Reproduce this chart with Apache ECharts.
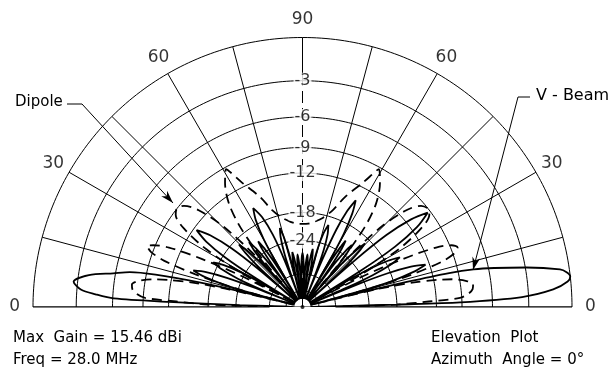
<!DOCTYPE html>
<html><head><meta charset="utf-8">
<script src="https://cdn.jsdelivr.net/npm/echarts@6/dist/echarts.min.js"></script>
<style>html,body{margin:0;padding:0;background:#fff}#c{width:612px;height:371px}</style>
</head><body><div id="c"></div>
<script>
// ---- data ----
const ringDb = [0, -3, -6, -9, -12, -18, -24, -36, -48];
const ringLabelDb = [-3, -6, -9, -12, -18, -24];
const ringLabels = ['-3', '-6', '-9', '-12', '-18', '-24'];
const spokeStep = 15;
const angleLabelAt = [0, 30, 60, 90, 120, 150, 180];
const angleLabels = ['0', '30', '60', '90', '60', '30', '0'];
// [elevation angle (deg, 0 = right horizon, 180 = left horizon), gain dB relative to max]
const vBeam = [
  [0,-60],[1.3,-30],[1.5,-18],[1.7,-9.2],[2.6,-3.5],[4,-1.2],[5.5,-0.2],[6.5,0],[7.5,-0.2],[8.3,-0.6],[10,-2.9],[11.5,-5.5],[12.4,-7.4],[13,-10],[13.5,-16],[14,-26],[14.6,-60],
  [15.3,-26.5],[16.1,-18.5],[17.5,-14.5],[19,-12.5],[20.4,-14.5],[21.6,-18.5],[22.4,-26.5],[23,-60],
  [23.6,-29.5],[24.4,-21.5],[25.6,-17.5],[27,-15.5],[28.4,-17.5],[29.6,-21.5],[30.4,-29.5],[31,-60],
  [31.9,-23.3],[33.1,-15.3],[34.9,-11.3],[37,-9.3],[38.9,-11.3],[40.6,-15.3],[41.7,-23.3],[42.5,-60],
  [42.9,-33],[43.5,-25],[44.5,-21],[45.5,-19],[46.5,-21],[47.5,-25],[48.1,-33],[48.5,-60],
  [48.9,-35],[49.5,-27],[50.5,-23],[51.5,-21],[52.5,-23],[53.5,-27],[54.1,-35],[54.5,-60],
  [54.9,-35],[55.4,-27],[56.1,-23],[57,-21],[57.7,-23],[58.3,-27],[58.7,-35],[59,-60],
  [59.7,-28],[60.6,-20],[62,-16],[63.5,-14],[65,-16],[66.4,-20],[67.3,-28],[68,-60],
  [68.7,-33.6],[69.6,-25.6],[70.9,-21.6],[72.5,-19.6],[74.1,-21.6],[75.4,-25.6],[76.3,-33.6],[77,-60],
  [77.5,-40],[78,-32],[79,-28],[80,-26],[80.7,-28],[81.3,-32],[81.7,-40],[82,-60],
  [82.4,-42],[83,-34],[83.6,-30],[84.5,-28],[85.4,-30],[86,-34],[86.6,-42],[87,-60],
  [87.5,-41.5],[88.2,-33.5],[89,-29.5],[90,-27.5],[91,-29.5],[91.8,-33.5],[92.5,-41.5],[93,-60],
  [93.4,-42],[94,-34],[94.6,-30],[95.5,-28],[96.4,-30],[97,-34],[97.6,-42],[98,-60],
  [98.4,-41],[99,-33],[99.6,-29],[100.5,-27],[101.4,-29],[102,-33],[102.6,-41],[103,-60],
  [103.5,-34.4],[104.2,-26.4],[105,-22.4],[106,-20.4],[107.4,-22.4],[108.6,-26.4],[109.4,-34.4],[110,-60],
  [111,-29.3],[112.3,-21.3],[114.2,-17.3],[116.5,-15.3],[118.3,-17.3],[119.8,-21.3],[120.8,-29.3],[121.5,-60],
  [121.9,-35],[122.4,-27],[123.1,-23],[124,-21],[124.9,-23],[125.6,-27],[126.1,-35],[126.5,-60],
  [126.9,-34],[127.6,-26],[128.5,-22],[129.5,-20],[130.5,-22],[131.4,-26],[132.1,-34],[132.5,-60],
  [132.9,-33],[133.5,-25],[134.5,-21],[135.5,-19],[136.5,-21],[137.5,-25],[138.1,-33],[138.5,-60],
  [139.3,-26.4],[140.4,-18.4],[142.1,-14.4],[144,-12.4],[145.8,-14.4],[147.3,-18.4],[148.3,-26.4],[149,-60],
  [149.7,-31],[150.6,-23],[152,-19],[153.5,-17],[155,-19],[156.4,-23],[157.1,-31],[157.5,-60],
  [158.1,-28.6],[158.9,-20.6],[160.1,-16.6],[161.5,-14.6],[162.9,-16.6],[164.1,-20.6],[164.9,-28.6],[165.5,-60],
  [166,-24],[166.6,-16],[167.6,-10],[168.6,-7.3],[169.9,-5.8],[171.5,-3.8],[173.7,-2.7],[175.5,-3.3],[176.5,-4.5],[177.4,-6.1],[177.8,-12],[178.3,-25],[179,-60],[180,-60]
];
const dipole = [
  [0,-60],[0.8,-30],[1.5,-18],[2.5,-13],[3.3,-9.2],[4.5,-8.3],[6,-7.8],[7.5,-7.7],[9,-8.3],[10.5,-9.8],[11.4,-11.6],[12.5,-15],[13.5,-22],[14.5,-60],
  [15.3,-24],[16.5,-15],[18,-10.5],[19.5,-8.8],[21,-8.3],[22.5,-8.8],[24,-10.5],[25.5,-15],[27,-24],[28,-60],
  [29,-24],[31,-15],[33.5,-11],[36,-9.3],[38,-9],[40.5,-9.4],[43,-11],[45.5,-15],[47.5,-24],[49,-60],
  [50,-26],[52,-17],[54.5,-13],[58,-10.5],[61,-9.2],[64,-11.4],[68.9,-14.2],[72.5,-16.7],[77,-18.5],[82,-19.6],[86,-20.1],[90,-20.2],
  [94,-20.1],[98,-19.6],[103,-18.5],[107.5,-16.7],[111.1,-14.2],[116,-11.4],[119,-9.2],[122,-10.5],[125.5,-13],[128,-17],[130,-26],[131,-60],
  [132.5,-24],[134.5,-15],[137,-11],[139.5,-9.4],[142,-9],[144,-9.3],[146.5,-11],[149,-15],[151,-24],[152,-60],
  [153,-24],[154.5,-15],[156,-10.5],[157.5,-8.8],[158.5,-8.2],[160,-8.8],[161.5,-10.5],[163,-15],[164.5,-24],[165.5,-60],
  [166.5,-22],[167.5,-15],[168.6,-11.6],[169.5,-9.8],[171,-8.3],[172.5,-7.7],[174,-7.8],[175.5,-8.3],[176.7,-9.2],[177.5,-13],[178.5,-18],[179.2,-30],[180,-60]
];
const infoLeft = ['Max  Gain = 15.46 dBi', 'Freq = 28.0 MHz'];
const infoRight = ['Elevation  Plot', 'Azimuth  Angle = 0\u00B0'];
const legendNames = ['Dipole', 'V - Beam'];

// ---- helpers ----
// ARRL log-periodic scale: radius falls to 0.89 for every 2 dB
function dbToR(db) { return Math.pow(0.89, -db / 2); }
const FONT = 'DejaVu Sans';
const CX = 302.5, CY = 307, R = 269.5;
const RMAX = 1.1;            // head-room so the rim ring is not clipped
const LABEL_R = 1.068;
const arcAngles = [];
for (let a = 0; a <= 180; a += 1) arcAngles.push(a);

const spokeColors = [];
for (let a = 0; a <= 180; a += spokeStep) spokeColors.push(a === 90 ? 'rgba(0,0,0,0)' : '#000');

const series = [];
ringDb.forEach(function (db) {
  series.push({
    type: 'line', coordinateSystem: 'polar', polarIndex: 1, silent: true, clip: false,
    symbol: 'none', z: 1,
    lineStyle: { color: '#000', width: 1 },
    data: arcAngles.map(function (a) { return [dbToR(db), a]; })
  });
});
// horizon line
series.push({
  type: 'line', coordinateSystem: 'polar', polarIndex: 1, silent: true, symbol: 'none', z: 1, clip: false,
  lineStyle: { color: '#000', width: 1 },
  data: [[1, 180], [0, 0], [1, 0]]
});
// zenith line: solid outside the -3 ring, dashed inside
series.push({
  type: 'line', coordinateSystem: 'polar', polarIndex: 1, silent: true, symbol: 'none', z: 1, clip: false,
  lineStyle: { color: '#000', width: 1 },
  data: [[dbToR(ringLabelDb[0]), 90], [1, 90]]
});
series.push({
  type: 'line', coordinateSystem: 'polar', polarIndex: 1, silent: true, symbol: 'none', z: 1, clip: false,
  lineStyle: { color: '#000', width: 1, type: [12, 5] },
  data: [[0, 90], [dbToR(ringLabelDb[0]), 90]]
});
// patterns
series.push({
  name: 'V - Beam', type: 'line', coordinateSystem: 'polar', polarIndex: 1, silent: true, clip: false,
  symbol: 'none', z: 3, smooth: 0.3,
  lineStyle: { color: '#000', width: 1.8 },
  data: vBeam.map(function (p) { return [dbToR(p[1]), p[0]]; })
});
series.push({
  name: 'Dipole', type: 'line', coordinateSystem: 'polar', polarIndex: 1, silent: true, clip: false,
  symbol: 'none', z: 3, smooth: 0.3,
  lineStyle: { color: '#000', width: 1.8, type: [10, 6] },
  data: dipole.map(function (p) { return [dbToR(p[1]), p[0]]; })
});
// ring labels
series.push({
  type: 'scatter', coordinateSystem: 'polar', polarIndex: 1, silent: true, z: 5,
  symbolSize: 0.1, itemStyle: { color: 'rgba(0,0,0,0)' },
  label: {
    show: true, position: 'inside', color: '#000', fontFamily: FONT, fontSize: 16,
    backgroundColor: '#fff', padding: [0, 1],
    formatter: function (p) { return ringLabels[p.dataIndex]; }
  },
  data: ringLabelDb.map(function (db) { return [dbToR(db), 90]; })
});
// elevation angle labels, just outside the rim
series.push({
  type: 'scatter', coordinateSystem: 'polar', polarIndex: 1, silent: true, z: 5, clip: false,
  symbolSize: 0.1, itemStyle: { color: 'rgba(0,0,0,0)' },
  label: {
    show: true, position: 'inside', color: '#000', fontFamily: FONT, fontSize: 17,
    formatter: function (p) { return angleLabels[p.dataIndex]; }
  },
  data: angleLabelAt.map(function (a) { return [LABEL_R, a]; })
});
// centre dot
series.push({
  type: 'scatter', coordinateSystem: 'polar', polarIndex: 1, silent: true, z: 6,
  symbolSize: 4, itemStyle: { color: '#000' }, data: [[0, 0]]
});

function arrowHead(tip, from, len, half) {
  const dx = tip[0] - from[0], dy = tip[1] - from[1];
  const L = Math.sqrt(dx * dx + dy * dy);
  const ux = dx / L, uy = dy / L, px = -uy, py = ux;
  const bx = tip[0] - ux * len, by = tip[1] - uy * len;
  const nx = tip[0] - ux * len * 0.7, ny = tip[1] - uy * len * 0.7;
  return [tip, [bx + px * half, by + py * half], [nx, ny], [bx - px * half, by - py * half]];
}
const dipTip = [173, 203], dipBend = [82, 104];
const vbTip = [473, 270], vbBend = [518, 97];

const graphic = [
  { type: 'text', left: 15, top: 95, style: { text: legendNames[0], font: '15px "' + FONT + '"', fill: '#000' } },
  { type: 'polyline', shape: { points: [[67, 104], dipBend, dipTip] }, style: { stroke: '#000', lineWidth: 1, fill: null } },
  { type: 'polygon', shape: { points: arrowHead(dipTip, dipBend, 13, 4) }, style: { fill: '#000' } },
  { type: 'text', left: 536, top: 88, style: { text: legendNames[1], font: '16px "' + FONT + '"', fill: '#000' } },
  { type: 'polyline', shape: { points: [[530, 97], vbBend, vbTip] }, style: { stroke: '#000', lineWidth: 1, fill: null } },
  { type: 'polygon', shape: { points: arrowHead(vbTip, vbBend, 13, 4) }, style: { fill: '#000' } },
  { type: 'text', left: 13, top: 331, style: { text: infoLeft[0], font: '15px "' + FONT + '"', fill: '#000' } },
  { type: 'text', left: 13, top: 353, style: { text: infoLeft[1], font: '15px "' + FONT + '"', fill: '#000' } },
  { type: 'text', left: 431, top: 331, style: { text: infoRight[0], font: '15px "' + FONT + '"', fill: '#000' } },
  { type: 'text', left: 431, top: 353, style: { text: infoRight[1], font: '15px "' + FONT + '"', fill: '#000' } }
];

const chart = echarts.init(document.getElementById('c'), null, { renderer: 'canvas' });
chart.setOption({
  animation: false,
  backgroundColor: '#fff',
  polar: [
    { center: [CX, CY], radius: [33, R] },
    { center: [CX, CY], radius: [0, R * RMAX] }
  ],
  angleAxis: [
    {
      polarIndex: 0, type: 'value', min: 0, max: 180, interval: spokeStep,
      startAngle: 0, endAngle: 180, clockwise: false,
      axisLine: { show: false }, axisTick: { show: false }, axisLabel: { show: false },
      splitLine: { show: true, lineStyle: { color: spokeColors, width: 1 } }
    },
    {
      polarIndex: 1, type: 'value', min: 0, max: 180, startAngle: 0, endAngle: 180, clockwise: false,
      axisLine: { show: false }, axisTick: { show: false }, splitLine: { show: false }, axisLabel: { show: false }
    }
  ],
  radiusAxis: [
    { polarIndex: 0, type: 'value', min: 0, max: 1, axisLine: { show: false }, axisTick: { show: false }, axisLabel: { show: false }, splitLine: { show: false } },
    { polarIndex: 1, type: 'value', min: 0, max: RMAX, axisLine: { show: false }, axisTick: { show: false }, axisLabel: { show: false }, splitLine: { show: false } }
  ],
  series: series,
  graphic: graphic
});
</script>
</body></html>
